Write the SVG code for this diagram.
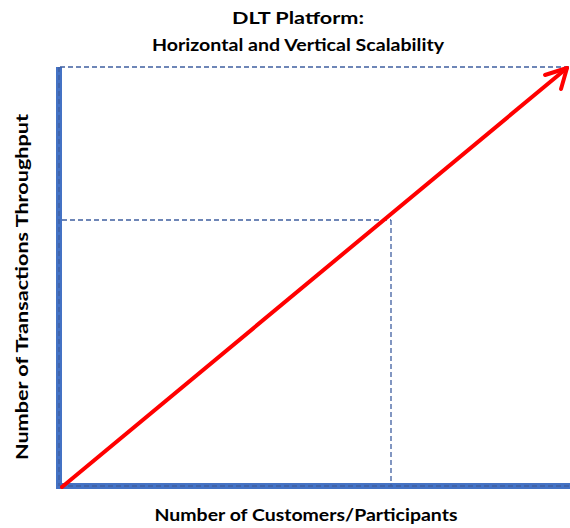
<svg xmlns="http://www.w3.org/2000/svg" width="570" height="528" viewBox="0 0 570 528">
  <style>
    .title { font-family: Lato, "Open Sans", "Liberation Sans", sans-serif; font-weight: bold; font-size: 17.5px; fill: #000; text-anchor: middle; }
    .axis { stroke: #4472C4; stroke-width: 6; fill: none; }
    .guide { stroke: #3F5FA0; stroke-width: 1.3; stroke-dasharray: 5 3; fill: none; }
    .trend { stroke: #FF0000; stroke-width: 4; fill: none; stroke-linecap: round; stroke-linejoin: round; }
  </style>
  <rect width="570" height="528" fill="#fff"/>

  <g id="title">
    <text class="title" x="298" y="24" textLength="132" lengthAdjust="spacingAndGlyphs">DLT Platform:</text>
    <text class="title" x="298" y="51" textLength="292" lengthAdjust="spacingAndGlyphs">Horizontal and Vertical Scalability</text>
  </g>

  <g id="axes">
    <line class="axis" x1="59" y1="67" x2="59" y2="489"/>
    <line class="axis" x1="56" y1="486" x2="570" y2="486"/>
  </g>

  <g id="connectors">
    <line class="guide" x1="60" y1="67" x2="570" y2="67"/>
    <line class="guide" x1="59" y1="67" x2="59" y2="486"/>
    <line class="guide" x1="62" y1="220" x2="391" y2="220"/>
    <line class="guide" x1="391" y1="220" x2="391" y2="486"/>
    <line class="guide" x1="60" y1="486" x2="570" y2="486"/>
    <line class="trend" x1="62" y1="487" x2="567" y2="68"/>
    <polyline class="trend" points="545,75 567,68 561,89"/>
  </g>

  <g id="labels">
    <text class="title" x="0" y="0" transform="translate(28,287) rotate(-90)" textLength="346" lengthAdjust="spacingAndGlyphs">Number of Transactions Throughput</text>
    <text class="title" x="306" y="521" textLength="303" lengthAdjust="spacingAndGlyphs">Number of Customers/Participants</text>
  </g>
</svg>
